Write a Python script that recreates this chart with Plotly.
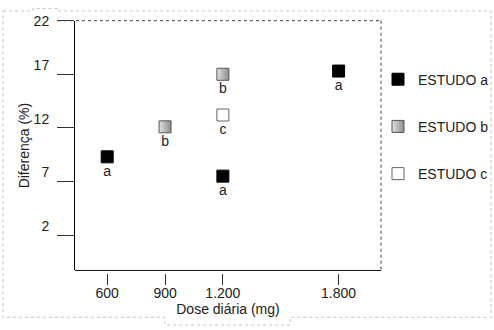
import plotly.graph_objects as go

# Daily dose (mg) and difference (%) for each study
dose_a = [600, 1200, 1800]
diff_a = [9.3, 7.5, 17.3]
dose_b = [900, 1200]
diff_b = [12.1, 17.0]
dose_c = [1200]
diff_c = [13.2]

series_names = ["ESTUDO a", "ESTUDO b", "ESTUDO c"]
point_labels = ["a", "b", "c"]

x_ticks = [600, 900, 1200, 1800]
x_tick_labels = ["600", "900", "1.200", "1.800"]
y_ticks = [2, 7, 12, 17, 22]

W, H = 494, 330
FONT = "Liberation Sans, Arial, sans-serif"


def px(x):
    return x / W


def py(y):
    return 1 - y / H


fig = go.Figure()

styles = [
    dict(color="#000000", size=12, line=dict(color="#000000", width=1)),
    dict(color="#e2e2e2", size=12, line=dict(color="#555555", width=1),
         gradient=dict(type="horizontal", color="#8c8c8c")),
    dict(color="#ffffff", size=12, line=dict(color="#666666", width=1)),
]

for name, lab, xs, ys, st in zip(series_names, point_labels,
                                  [dose_a, dose_b, dose_c],
                                  [diff_a, diff_b, diff_c], styles):
    fig.add_trace(go.Scatter(
        x=xs, y=ys, mode="markers", name=name, legendgroup=name,
        marker=dict(symbol="square", **st),
    ))
    # letter under each point; invisible marker keeps the text clear of the square
    fig.add_trace(go.Scatter(
        x=xs, y=ys, mode="markers+text", text=[lab] * len(xs),
        textposition="bottom center", showlegend=False, hoverinfo="skip",
        marker=dict(symbol="square", size=12, color="rgba(0,0,0,0)"),
        textfont=dict(family=FONT, size=14, color="#222222"),
    ))

# plot frame: solid left/bottom, dotted top/right
frame_shapes = [
    dict(type="line", xref="paper", yref="paper", x0=px(75), x1=px(381),
         y0=py(269), y1=py(269), line=dict(color="#111111", width=1)),
    dict(type="line", xref="paper", yref="paper", x0=px(58), x1=px(381),
         y0=py(13), y1=py(13), line=dict(color="#444444", width=1, dash="dot")),
    dict(type="line", xref="paper", yref="paper", x0=px(381), x1=px(381),
         y0=py(13), y1=py(269), line=dict(color="#444444", width=1, dash="dot")),
]

# light dashed outer border
pts = [(3, 3), (33, 3), (33, 0.5), (58, 0.5), (58, 3), (491, 3), (491, 317),
       (290, 317), (290, 325), (165, 325), (165, 317), (3, 317)]
path = "M " + " L ".join(f"{px(a):.5f},{py(b):.5f}" for a, b in pts) + " Z"
frame_shapes.append(dict(type="path", xref="paper", yref="paper", path=path,
                         line=dict(color="#c4c4c4", width=1, dash="dot")))

# y labels sit just above their tick marks (empty second line lifts them);
# the top label stays single-line so it remains inside the page
y_tick_text = [f"{v}<br> " if v != y_ticks[-1] else f"{v}" for v in y_ticks]

fig.update_layout(
    width=W, height=H,
    margin=dict(l=0, r=0, t=0, b=0),
    paper_bgcolor="white", plot_bgcolor="white",
    font=dict(family=FONT, size=14, color="#222222"),
    shapes=frame_shapes,
    showlegend=True,
    legend=dict(
        x=px(378), y=py(57), xanchor="left", yanchor="top",
        bgcolor="rgba(0,0,0,0)", borderwidth=0,
        tracegroupgap=26, itemsizing="trace",
        font=dict(family=FONT, size=14, color="#222222"),
    ),
    xaxis=dict(
        domain=[px(75), px(381)], range=[433, 2020],
        anchor="free", position=py(272),
        showline=False, showgrid=False, zeroline=False,
        tickmode="array", tickvals=x_ticks, ticktext=x_tick_labels,
        ticks="outside", ticklen=11, tickcolor="#333333", tickwidth=1,
        ticklabelstandoff=-4,
        title=dict(text="Dose diária (mg)", standoff=3,
                   font=dict(family=FONT, size=14)),
    ),
    yaxis=dict(
        domain=[py(269), py(13)], range=[-1.3, 22],
        showline=True, linecolor="#000000", linewidth=1,
        showgrid=False, zeroline=False,
        tickmode="array", tickvals=y_ticks, ticktext=y_tick_text,
        ticks="outside", ticklen=17, tickcolor="#333333", tickwidth=1,
        ticklabelstandoff=5,
        title=dict(text="Diferença (%)", standoff=0,
                   font=dict(family=FONT, size=14)),
    ),
)

fig.write_html("out.html")
